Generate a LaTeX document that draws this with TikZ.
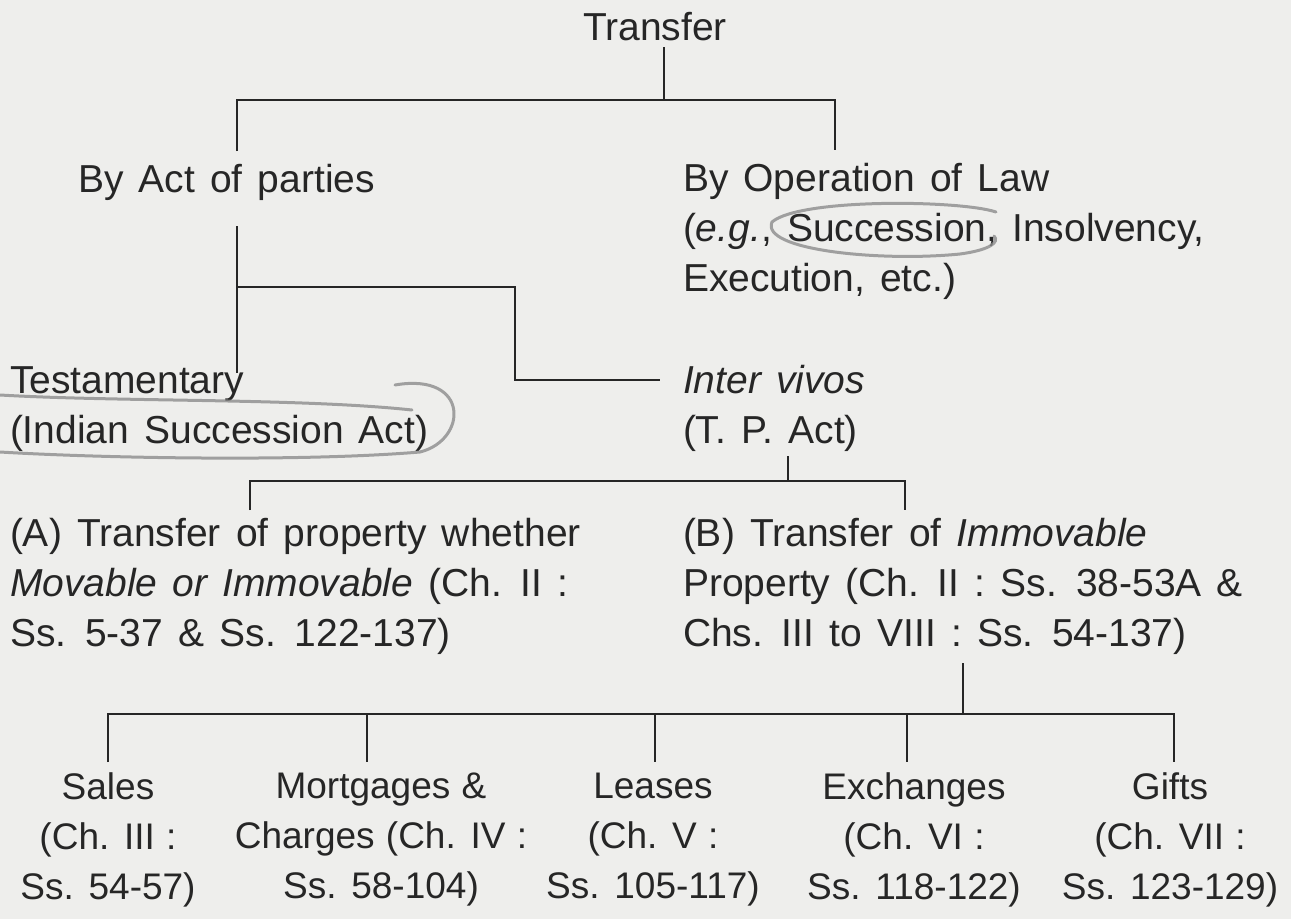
\documentclass[tikz,border=0pt]{standalone}
\usepackage{fontspec}
\setmainfont{Liberation Sans}[WordSpace=1.4]
\newfontfamily\narrowsp{Liberation Sans}[WordSpace=1.1]
\definecolor{paper}{HTML}{EEEEEC}
\definecolor{ink}{HTML}{262626}
\definecolor{pencilgray}{HTML}{8C8C8C}
\tikzset{
  txt/.style={inner sep=0pt, outer sep=0pt, text=ink, font=\fontsize{39}{50}\selectfont},
  lefttxt/.style={txt, align=left, anchor=north west},
  midtxt/.style={txt, align=center, anchor=north, font=\narrowsp\fontsize{37}{50}\selectfont},
  rule/.style={draw=ink, line width=1.8pt},
  pencil/.style={draw=pencilgray, line width=3pt, line cap=round, opacity=0.8}
}
\begin{document}
\begin{tikzpicture}[x=1pt,y=-1pt]
\fill[paper] (0,0) rectangle (1291,919);
\useasboundingbox (0,0) rectangle (1291,919);

% texts
\node[txt, anchor=base] (transfer) at (655,40) {Transfer};
\node[txt, anchor=base west] (byact) at (78,192) {By Act of parties};
\node[lefttxt] (byop) at (683,163) {By Operation of Law\\(\textit{e.g.}, Succession, Insolvency,\\Execution, etc.)};
\node[lefttxt] (testa) at (10,367) {Testamentary\\(Indian Succession Act)};
\node[lefttxt] (inter) at (683,365) {\textit{Inter vivos}\\(T. P. Act)};
\node[lefttxt] (partA) at (10,518) {(A) Transfer of property whether\\\textit{Movable or Immovable} (Ch. II :\\Ss. 5-37 \& Ss. 122-137)};
\node[lefttxt] (partB) at (683,518) {(B) Transfer of \textit{Immovable}\\Property (Ch. II : Ss. 38-53A \&\\Chs. III to VIII : Ss. 54-137)};
\node[midtxt] (sales) at (108,773) {Sales\\(Ch. III :\\Ss. 54-57)};
\node[midtxt] (mort) at (381,773) {Mortgages \&\\Charges (Ch. IV :\\Ss. 58-104)};
\node[midtxt] (leases) at (653,773) {Leases\\(Ch. V :\\Ss. 105-117)};
\node[midtxt] (exch) at (914,773) {Exchanges\\(Ch. VI :\\Ss. 118-122)};
\node[midtxt] (gifts) at (1170,773) {Gifts\\(Ch. VII :\\Ss. 123-129)};

% junction coordinates
\coordinate (t0) at (664,47);
\coordinate (t1) at (664,100);
\coordinate (tl) at (237,100);
\coordinate (tr) at (835,100);
\coordinate (tlb) at (237,151);
\coordinate (trb) at (835,150);

\coordinate (a0) at (237,226);
\coordinate (a1) at (237,287);
\coordinate (a2) at (237,373);
\coordinate (a3) at (515,287);
\coordinate (a4) at (515,380);
\coordinate (a5) at (660,380);

\coordinate (p0) at (788,456);
\coordinate (p1) at (788,481);
\coordinate (pl) at (250,481);
\coordinate (pr) at (905,481);
\coordinate (plb) at (250,510);
\coordinate (prb) at (905,510);

\coordinate (b0) at (963,663);
\coordinate (b1) at (963,714);
\coordinate (bl) at (108,714);
\coordinate (br) at (1174,714);
\coordinate (s1) at (108,762);
\coordinate (m0) at (367,714);
\coordinate (m1) at (367,762);
\coordinate (l0) at (655,714);
\coordinate (l1) at (655,762);
\coordinate (e0) at (907,714);
\coordinate (e1) at (907,762);
\coordinate (g1) at (1174,762);

% connectors
\draw[rule] (t0) -- (t1);
\draw[rule] (tlb) -- (tl) -- (tr) -- (trb);
\draw[rule] (a0) -- (a2);
\draw[rule] (a1) -- (a3) -- (a4) -- (a5);
\draw[rule] (p0) -- (p1);
\draw[rule] (plb) -- (pl) -- (pr) -- (prb);
\draw[rule] (b0) -- (b1);
\draw[rule] (s1) -- (bl) -- (br) -- (g1);
\draw[rule] (m0) -- (m1);
\draw[rule] (l0) -- (l1);
\draw[rule] (e0) -- (e1);

% pencil annotations
\draw[pencil] (0,395) .. controls (120,402) and (300,398) .. (412,410);
\draw[pencil] (395,385) .. controls (470,372) and (468,440) .. (420,452)
  .. controls (300,462) and (100,458) .. (0,452);
\draw[pencil] (996,212) .. controls (960,200) and (800,198) .. (772,222)
  .. controls (760,250) and (880,262) .. (960,254)
  .. controls (990,250) and (1000,242) .. (994,236);
\end{tikzpicture}
\end{document}
